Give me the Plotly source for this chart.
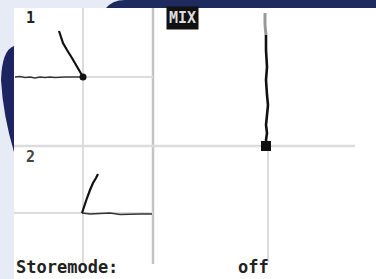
import plotly.graph_objects as go

# ---- data (screen units of the scope display) ----
ch1_base_x = [15, 20, 25, 30, 35, 40, 45, 50, 55, 60, 65, 70, 75, 83]
ch1_base_y = [77, 76.5, 77.5, 77, 78, 77, 77.5, 77, 77.5, 77, 77, 77, 77, 77]
ch1_edge_x = [83, 78, 72, 67, 63, 61, 59]
ch1_edge_y = [77, 68, 58, 50, 43, 37, 31]

ch2_edge_x = [82, 84, 87, 90, 93, 96, 98]
ch2_edge_y = [213, 206, 198, 190, 183, 178, 174]
ch2_base_x = [82, 90, 100, 110, 120, 130, 140, 152]
ch2_base_y = [213, 214, 213.5, 213, 214.5, 214, 214, 214]

xy_x = [266, 266, 267, 266, 267, 268, 267, 266, 267, 266, 267, 266]
xy_y = [35, 50, 67, 80, 95, 105, 115, 125, 133, 140, 144, 146]
xy_top_x = [265, 265, 266]
xy_top_y = [13, 25, 35]

labels = ["1", "2"]
mode_label = "Storemode:"
mode_value = "off"
mix_label = "MIX"

W, H = 376, 279
fig = go.Figure()

ink = "#111111"
fig.add_trace(go.Scatter(x=ch1_base_x, y=ch1_base_y, mode="lines",
                         line=dict(color="#333333", width=1.5), hoverinfo="skip"))
fig.add_trace(go.Scatter(x=ch1_edge_x, y=ch1_edge_y, mode="lines",
                         line=dict(color=ink, width=2.2), hoverinfo="skip"))
fig.add_trace(go.Scatter(x=[ch1_edge_x[0]], y=[ch1_edge_y[0]], mode="markers",
                         marker=dict(color=ink, size=7), hoverinfo="skip"))
fig.add_trace(go.Scatter(x=ch2_base_x, y=ch2_base_y, mode="lines",
                         line=dict(color="#333333", width=1.5), hoverinfo="skip"))
fig.add_trace(go.Scatter(x=ch2_edge_x, y=ch2_edge_y, mode="lines",
                         line=dict(color=ink, width=2.2), hoverinfo="skip"))
fig.add_trace(go.Scatter(x=xy_top_x, y=xy_top_y, mode="lines",
                         line=dict(color="#999999", width=3), hoverinfo="skip"))
fig.add_trace(go.Scatter(x=xy_x, y=xy_y, mode="lines",
                         line=dict(color=ink, width=2.6), hoverinfo="skip"))
fig.add_trace(go.Scatter(x=[xy_x[-1]], y=[xy_y[-1]], mode="markers",
                         marker=dict(color=ink, size=10, symbol="square"), hoverinfo="skip"))

shapes = []
# backdrop pieces
shapes.append(dict(type="path", xref="x", yref="y", layer="below",
                   path="M 105 9 Q 112 0 125 0 L 376 0 L 376 9 Z",
                   fillcolor="#1f2a5e", line=dict(width=0)))
shapes.append(dict(type="path", xref="x", yref="y", layer="below",
                   path="M 14 46 Q 2 50 1 80 Q 3 115 14 152 Z",
                   fillcolor="#1c2462", line=dict(width=0)))
# display panel
shapes.append(dict(type="rect", xref="x", yref="y", layer="below",
                   x0=14, x1=376, y0=8, y1=279, fillcolor="white", line=dict(width=0)))
# graticule
g = "#dcdcdc"
shapes += [
    dict(type="line", x0=83, x1=83, y0=8, y1=264, line=dict(color=g, width=2), layer="below"),
    dict(type="line", x0=153, x1=153, y0=8, y1=264, line=dict(color="#c4c4c4", width=2.5), layer="below"),
    dict(type="line", x0=268, x1=268, y0=146, y1=262, line=dict(color=g, width=2), layer="below"),
    dict(type="line", x0=83, x1=153, y0=77, y1=77, line=dict(color=g, width=2), layer="below"),
    dict(type="line", x0=14, x1=355, y0=146, y1=146, line=dict(color=g, width=2.5), layer="below"),
    dict(type="line", x0=14, x1=153, y0=213, y1=213, line=dict(color=g, width=2), layer="below"),
]

font = "DejaVu Sans Mono"
ann = [
    dict(x=30, y=18, text="<b>" + labels[0] + "</b>", showarrow=False,
         font=dict(family=font, size=15, color="#222")),
    dict(x=30, y=157, text="<b>" + labels[1] + "</b>", showarrow=False,
         font=dict(family=font, size=15, color="#444")),
    dict(x=182, y=18, text="<b>" + mix_label + "</b>", showarrow=False, bgcolor="#111111",
         borderpad=2, font=dict(family=font, size=15, color="#dddddd")),
    dict(x=14, y=279, xanchor="left", yanchor="bottom",
         text="<b>" + mode_label + "</b>", showarrow=False,
         font=dict(family=font, size=17, color="#222")),
    dict(x=236, y=279, xanchor="left", yanchor="bottom",
         text="<b>" + mode_value + "</b>", showarrow=False,
         font=dict(family=font, size=17, color="#222")),
]

fig.update_layout(
    width=W, height=H, margin=dict(l=0, r=0, t=0, b=0),
    paper_bgcolor="#e7ebf5", plot_bgcolor="rgba(0,0,0,0)",
    showlegend=False, shapes=shapes, annotations=ann,
    xaxis=dict(range=[0, W], visible=False, fixedrange=True),
    yaxis=dict(range=[H, 0], visible=False, fixedrange=True),
)
fig.write_html("out.html", config={"displayModeBar": False},
               post_script="document.body.style.margin='0';document.body.style.overflow='hidden';")
